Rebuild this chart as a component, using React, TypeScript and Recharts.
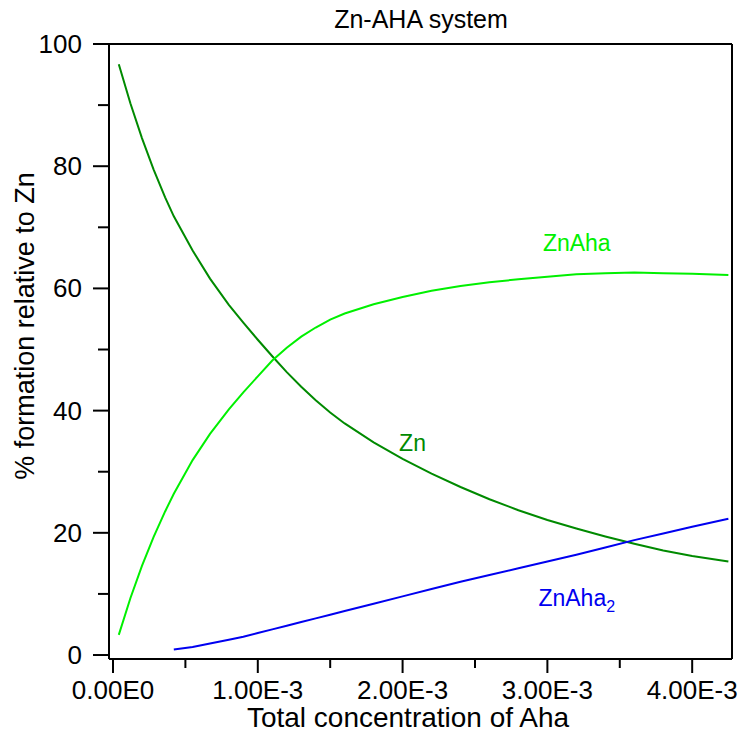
import React from "react";
import { LineChart, Line, XAxis, YAxis, ReferenceLine, ReferenceDot } from "recharts";

// total Aha concentration (mol/L)
const conc = [
  0.04e-3, 0.12e-3, 0.2e-3, 0.28e-3, 0.36e-3, 0.42e-3, 0.55e-3, 0.67e-3, 0.8e-3, 0.9e-3,
  1.0e-3, 1.1e-3, 1.2e-3, 1.3e-3, 1.4e-3, 1.5e-3, 1.6e-3, 1.8e-3, 2.0e-3, 2.2e-3,
  2.4e-3, 2.6e-3, 2.8e-3, 3.0e-3, 3.2e-3, 3.4e-3, 3.6e-3, 3.8e-3, 4.0e-3, 4.25e-3,
];

// % formation of each species
const zn = [
  96.7, 90.3, 84.6, 79.5, 74.9, 71.8, 66.2, 61.6, 57.3, 54.4,
  51.6, 48.9, 46.3, 43.9, 41.7, 39.7, 37.9, 34.8, 32.1, 29.7,
  27.5, 25.5, 23.7, 22.1, 20.7, 19.4, 18.2, 17.1, 16.2, 15.3,
];
const znAha = [
  3.3, 9.3, 14.6, 19.3, 23.5, 26.4, 31.9, 36.2, 40.2, 43.0,
  45.6, 48.2, 50.3, 52.1, 53.6, 54.9, 55.9, 57.4, 58.6, 59.6,
  60.4, 61.0, 61.5, 61.9, 62.3, 62.5, 62.6, 62.5, 62.4, 62.2,
];
const znAha2 = [
  null, null, null, null, null, 0.9, 1.3, 1.9, 2.5, 3.0,
  3.6, 4.2, 4.8, 5.4, 6.0, 6.6, 7.2, 8.4, 9.6, 10.8,
  12.0, 13.1, 14.2, 15.3, 16.4, 17.6, 18.8, 19.9, 21.0, 22.3,
];

const xTicks = [0, 0.5e-3, 1.0e-3, 1.5e-3, 2.0e-3, 2.5e-3, 3.0e-3, 3.5e-3, 4.0e-3];
const xTickLabels = ["0.00E0", "", "1.00E-3", "", "2.00E-3", "", "3.00E-3", "", "4.00E-3"];
const yTicks = [0, 10, 20, 30, 40, 50, 60, 70, 80, 90, 100];
const yTickLabels = ["0", "", "20", "", "40", "", "60", "", "80", "", "100"];

const X_DOMAIN: [number, number] = [-0.0276e-3, 4.275e-3];
const Y_DOMAIN: [number, number] = [-0.65, 100];

const FONT = "'Liberation Sans', Arial, sans-serif";
const DARK_GREEN = "#008a00";
const LIGHT_GREEN = "#00f000";
const BLUE = "#0000f0";

const data = conc.map((c, i) => ({ c, zn: zn[i], znAha: znAha[i], znAha2: znAha2[i] }));

const YTick = (props: any) => {
  const { x, y, index } = props;
  const label = yTickLabels[index];
  return (
    <g>
      <line x1={x - (label ? 16 : 11)} x2={x} y1={y} y2={y} stroke="#000" strokeWidth={2} />
      {label && (
        <text x={x - 27} y={y} textAnchor="end" dominantBaseline="central" fontSize={26} fontFamily={FONT} fill="#000">
          {label}
        </text>
      )}
    </g>
  );
};

const XTick = (props: any) => {
  const { x, y, index } = props;
  const label = xTickLabels[index];
  return (
    <g>
      <line x1={x} x2={x} y1={y} y2={y + (label ? 14 : 9)} stroke="#000" strokeWidth={2} />
      {label && (
        <text x={x} y={y + 40} textAnchor="middle" fontSize={26} fontFamily={FONT} fill="#000">
          {label}
        </text>
      )}
    </g>
  );
};

const seriesLabel = (text: string, color: string, sub?: string) => (p: any) => (
  <text x={p.cx} y={p.cy} fontSize={23} fontFamily={FONT} fill={color}>
    {text}
    {sub && (
      <tspan fontSize={16} dy={6}>
        {sub}
      </tspan>
    )}
  </text>
);

export default function App() {
  return (
    <div style={{ position: "absolute", left: 0, top: 0, width: 743, height: 736, background: "#fff" }}>
      <LineChart width={743} height={736} data={data} margin={{ top: 44, right: 11, left: 0, bottom: 0 }}>
        <XAxis
          dataKey="c"
          type="number"
          domain={X_DOMAIN}
          allowDataOverflow
          ticks={xTicks}
          interval={0}
          tick={<XTick />}
          tickLine={false}
          tickSize={0}
          tickMargin={0}
          height={77}
          axisLine={{ stroke: "#000", strokeWidth: 2 }}
          label={{
            content: () => (
              <text x={408} y={727} textAnchor="middle" fontSize={28} fontFamily={FONT} fill="#000">
                Total concentration of Aha
              </text>
            ),
          }}
        />
        <YAxis
          type="number"
          domain={Y_DOMAIN}
          allowDataOverflow
          ticks={yTicks}
          interval={0}
          tick={<YTick />}
          tickLine={false}
          tickSize={0}
          tickMargin={0}
          width={109}
          axisLine={{ stroke: "#000", strokeWidth: 2 }}
          label={{
            content: () => (
              <g>
                <text
                  x={25}
                  y={326}
                  transform="rotate(-90 25 326)"
                  textAnchor="middle"
                  dominantBaseline="central"
                  fontSize={27}
                  fontFamily={FONT}
                  fill="#000"
                >
                  % formation relative to Zn
                </text>
                <text x={421} y={28} textAnchor="middle" fontSize={25} fontFamily={FONT} fill="#000">
                  Zn-AHA system
                </text>
              </g>
            ),
          }}
        />
        <ReferenceLine y={100} stroke="#000" strokeWidth={2} ifOverflow="visible" />
        <ReferenceLine x={X_DOMAIN[1]} stroke="#000" strokeWidth={2} ifOverflow="visible" />
        <Line type="linear" dataKey="zn" stroke={DARK_GREEN} strokeWidth={2} dot={false} isAnimationActive={false} />
        <Line type="linear" dataKey="znAha" stroke={LIGHT_GREEN} strokeWidth={2} dot={false} isAnimationActive={false} />
        <Line type="linear" dataKey="znAha2" stroke={BLUE} strokeWidth={2} dot={false} isAnimationActive={false} />
        <ReferenceDot x={1.976e-3} y={33.4} r={0} ifOverflow="visible" shape={seriesLabel("Zn", DARK_GREEN)} />
        <ReferenceDot x={2.969e-3} y={66.1} r={0} ifOverflow="visible" shape={seriesLabel("ZnAha", LIGHT_GREEN)} />
        <ReferenceDot x={2.938e-3} y={8.0} r={0} ifOverflow="visible" shape={seriesLabel("ZnAha", BLUE, "2")} />
      </LineChart>
    </div>
  );
}
